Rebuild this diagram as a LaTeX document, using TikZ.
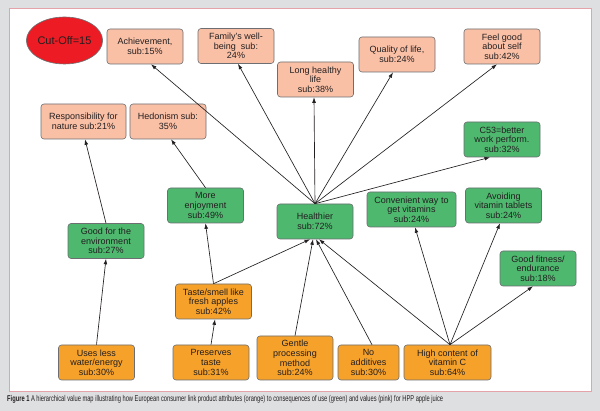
\documentclass[tikz,border=0pt]{standalone}
\usepackage{fontspec}
\setmainfont{Liberation Sans}
\newfontfamily\capfont[FakeStretch=0.68]{Liberation Sans}
\usetikzlibrary{shapes.geometric,arrows.meta}
\definecolor{bggray}{HTML}{DEDFE1}
\definecolor{panelline}{HTML}{E3A3A8}
\definecolor{pinkfill}{HTML}{FAC0A6}
\definecolor{greenfill}{HTML}{4DB86E}
\definecolor{orangefill}{HTML}{F6A12A}
\definecolor{redfill}{HTML}{ED1C24}
\definecolor{txt}{HTML}{231F20}
\definecolor{edge}{HTML}{6D6E71}
\tikzset{
  box/.style={draw=edge, line width=0.6pt, rounded corners=3pt, align=center,
    inner sep=1pt, text=txt, font=\fontsize{9pt}{9.6pt}\selectfont,
    minimum width=76pt, minimum height=35pt},
  valbox/.style={box, fill=pinkfill},
  conbox/.style={box, fill=greenfill},
  attbox/.style={box, fill=orangefill},
  link/.style={draw=txt, line width=0.65pt, -{Latex[length=5.5pt,width=3.8pt]}}
}
\begin{document}
\begin{tikzpicture}[x=1pt,y=-1pt]
\useasboundingbox (0,0) rectangle (600,411);
\fill[bggray] (0,0) rectangle (600,411);
\draw[panelline, fill=white, line width=0.8pt] (9,8) rectangle (591,391);

% cut-off
\node[ellipse, draw=edge, line width=0.6pt, fill=redfill, minimum width=71pt, minimum height=47pt,
  inner sep=0pt, text=txt, font=\fontsize{11pt}{12pt}\selectfont] (cut) at (64.5,40.5) {Cut-Off=15};

% values
\node[valbox] (ach) at (145,46.5) {Achievement,\\sub:15\%};
\node[valbox] (fam) at (236,46) {Family’s well-\\being\ \ sub:\\24\%};
\node[valbox] (long) at (315.5,79.5) {Long healthy\\life\\sub:38\%};
\node[valbox] (qual) at (397,54.5) {Quality of life,\\sub:24\%};
\node[valbox] (feel) at (502,46.5) {Feel good\\about self\\sub:42\%};
\node[valbox, minimum width=85pt] (resp) at (83.5,121.5) {Responsibility for\\nature sub:21\%};
\node[valbox] (hed) at (168,121.5) {Hedonism sub:\\35\%};

% consequences
\node[conbox] (c53) at (502,139.5) {C53=better\\work perform.\\sub:32\%};
\node[conbox] (enj) at (205.5,205.5) {More\\enjoyment\\sub:49\%};
\node[conbox] (hea) at (315,221.5) {Healthier\\sub:72\%};
\node[conbox] (env) at (106,241) {Good for the\\environment\\sub:27\%};
\node[conbox, minimum width=89pt] (conv) at (411.5,209.5) {Convenient way to\\get vitamins\\sub:24\%};
\node[conbox] (avoid) at (503.5,205.5) {Avoiding\\vitamin tablets\\sub:24\%};
\node[conbox] (fit) at (538,268.5) {Good fitness/\\endurance\\sub:18\%};

% attributes
\node[attbox] (taste) at (213.5,301.5) {Taste/smell like\\fresh apples\\sub:42\%};
\node[attbox] (water) at (96.5,362.5) {Uses less\\water/energy\\sub:30\%};
\node[attbox] (pres) at (211,362.5) {Preserves\\taste\\sub:31\%};
\node[attbox, minimum height=44pt] (gentle) at (295,358) {Gentle\\processing\\method\\sub:24\%};
\node[attbox, minimum width=61pt] (noadd) at (368.5,362.5) {No\\additives\\sub:30\%};
\node[attbox, minimum width=87pt] (vitc) at (447.5,362.5) {High content of\\vitamin C\\sub:64\%};

% links
\draw[link] (water.north) -- (env.south);
\draw[link] (env.north) -- ([xshift=1.5pt]resp.south);
\draw[link] (pres.north) -- ([xshift=1.5pt]taste.south);
\draw[link] (taste.north) -- (enj.south);
\draw[link] (taste.north) -- ([xshift=-5pt]hea.south);
\draw[link] (enj.north) -- ([xshift=3pt]hed.south);
\draw[link] (gentle.north) -- ([xshift=-2pt]hea.south);
\draw[link] ([xshift=3.5pt]noadd.north) -- ([xshift=1pt]hea.south);
\draw[link] ([xshift=2.5pt]vitc.north) -- ([xshift=4pt]hea.south);
\draw[link] ([xshift=2.5pt]vitc.north) -- ([xshift=3.5pt]conv.south);
\draw[link] ([xshift=2.5pt]vitc.north) -- ([xshift=-3.5pt]avoid.south);
\draw[link] ([xshift=2.5pt]vitc.north) -- ([xshift=-5pt]fit.south);
\draw[link] (hea.north) -- ([xshift=6pt]ach.south);
\draw[link] (hea.north) -- ([xshift=2pt]fam.south);
\draw[link] (hea.north) -- ([xshift=-1.5pt]long.south);
\draw[link] (hea.north) -- ([xshift=-4pt]qual.south);
\draw[link] (hea.north) -- ([xshift=-5pt]feel.south);
\draw[link] (hea.north) -- ([xshift=-12pt]c53.south);

% caption
\node[anchor=west, inner sep=0pt, text=txt] (cap) at (7,399.5) {\resizebox{436pt}{!}{\capfont\fontsize{7pt}{8pt}\selectfont\textbf{Figure 1} A hierarchical value map illustrating how European consumer link product attributes (orange) to consequences of use (green) and values (pink) for HPP apple juice}};
\end{tikzpicture}
\end{document}
